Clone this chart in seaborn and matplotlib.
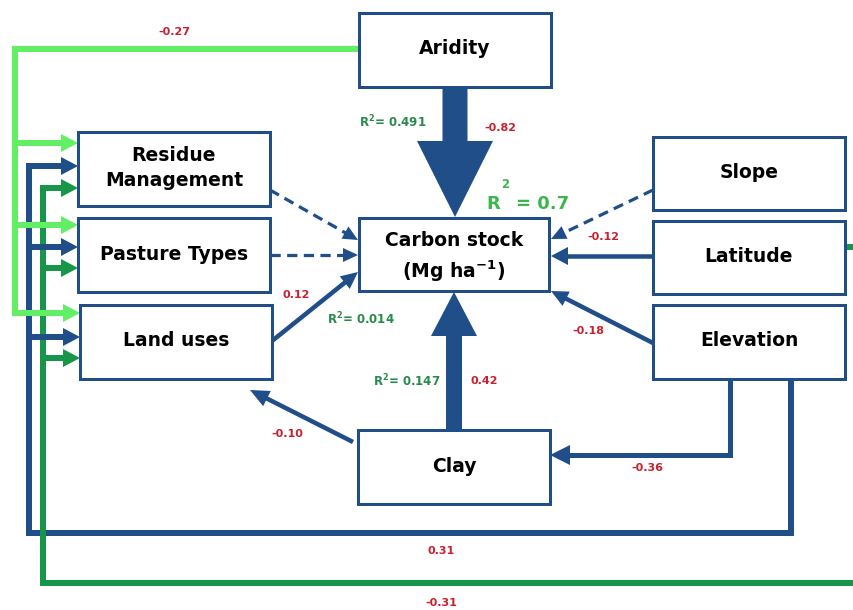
import numpy as np
import matplotlib
matplotlib.use("Agg")
import matplotlib.pyplot as plt
import matplotlib.patches as mpatches
import seaborn as sns

sns.set_theme(style="white")
plt.rcParams["font.family"] = ["DejaVu Sans"]

# ===========================
# DATA
# ===========================
node_names = ["Aridity", "Residue\nManagement", "Pasture Types", "Land uses",
              "Carbon stock", "Slope", "Latitude", "Elevation", "Clay"]

# path coefficients (source, target, value)
path_src = ["Aridity", "Aridity", "Latitude", "Land uses", "Elevation",
            "Clay", "Clay", "Elevation", "Elevation", "Latitude"]
path_dst = ["Carbon stock", "Management", "Carbon stock", "Carbon stock",
            "Carbon stock", "Carbon stock", "Land uses", "Clay",
            "Management", "Management"]
path_coef = [-0.82, -0.27, -0.12, 0.12, -0.18, 0.42, -0.10, -0.36, 0.31, -0.31]

# non significant paths (dashed)
ns_src = ["Residue\nManagement", "Pasture Types", "Slope"]

# explained variance
r2_names = ["Carbon stock", "Aridity", "Land uses", "Clay"]
r2_values = [0.7, 0.491, 0.014, 0.147]

# ===========================
# LAYOUT (pixels)
# ===========================
BLUE = "#1f4e89"
LGREEN = "#62ef66"
DGREEN = "#17964a"
RED = "#c8202e"
TGREEN = "#2a8a4c"
BGREEN = "#3db54e"
PT = 72 / 100.0

boxes = {
    "Aridity": (359, 13, 192, 74),
    "Residue\nManagement": (78, 132, 192, 74),
    "Pasture Types": (78, 218, 192, 74),
    "Land uses": (80, 305, 192, 74),
    "Carbon stock": (359, 218, 190, 73),
    "Slope": (653, 137, 192, 73),
    "Latitude": (653, 221, 192, 73),
    "Elevation": (653, 305, 192, 74),
    "Clay": (358, 430, 192, 74),
}

fig = plt.figure(figsize=(8.54, 6.10), dpi=100)
ax = fig.add_axes([0, 0, 1, 1])
ax.set_xlim(0, 854)
ax.set_ylim(610, 0)
ax.axis("off")


def head(tip, frm, length, width, color, z=4):
    tip = np.array(tip, float)
    u = tip - np.array(frm, float)
    u = u / np.linalg.norm(u)
    n = np.array([-u[1], u[0]])
    base = tip - u * length
    tri = [tip, base + n * width / 2, base - n * width / 2]
    ax.add_patch(mpatches.Polygon(tri, closed=True, color=color, lw=0, zorder=z))


def arrow(pts, lw_px, color, hl, hw, dashed=False, z=3):
    pts = [np.array(p, float) for p in pts]
    u = pts[-1] - pts[-2]
    u = u / np.linalg.norm(u)
    line = pts[:-1] + [pts[-1] - u * hl * 0.8]
    xs = [p[0] for p in line]
    ys = [p[1] for p in line]
    kw = dict(color=color, lw=lw_px * PT, zorder=z, solid_capstyle="butt",
              solid_joinstyle="miter")
    if dashed:
        kw["dashes"] = (3.2, 2.0)
        kw["dash_capstyle"] = "butt"
    ax.plot(xs, ys, **kw)
    head(pts[-1], pts[-2], hl, hw, color, z=z + 1)


def poly(pts, lw_px, color, z=2):
    ax.plot([p[0] for p in pts], [p[1] for p in pts], color=color,
            lw=lw_px * PT, zorder=z, solid_capstyle="projecting",
            solid_joinstyle="miter")


def lab(x, y, s, color=RED, size=8, ha="center"):
    ax.text(x, y, s, color=color, fontsize=size, fontweight="bold",
            ha=ha, va="center", zorder=6)


coef = dict(zip(zip(path_src, path_dst), path_coef))
r2 = dict(zip(r2_names, r2_values))

# ===========================
# LONG ROUTED PATHS (left side)
# ===========================
# Aridity -> management (light green)
poly([(359, 49), (15, 49), (15, 313)], 6, LGREEN)
for y, xe in [(143, 78), (225, 78), (313, 80)]:
    arrow([(15, y), (xe, y)], 6, LGREEN, 17, 18)

# Elevation -> management (blue)
poly([(791, 379), (791, 533), (29, 533), (29, 166)], 6, BLUE)
for y, xe in [(166, 78), (247, 78), (337, 80)]:
    arrow([(29, y), (xe, y)], 6, BLUE, 17, 18)

# Latitude -> management (dark green)
poly([(845, 247), (870, 247), (870, 583), (43, 583), (43, 188)], 6, DGREEN)
for y, xe in [(188, 78), (268, 78), (358, 80)]:
    arrow([(43, y), (xe, y)], 6, DGREEN, 17, 18)

# ===========================
# PATHS TO CARBON STOCK
# ===========================
ax.add_patch(mpatches.FancyArrow(455, 87, 0, 130, width=25, head_width=76,
                                 head_length=76, length_includes_head=True,
                                 color=BLUE, lw=0, zorder=3))
ax.add_patch(mpatches.FancyArrow(454, 430, 0, -138, width=16, head_width=46,
                                 head_length=44, length_includes_head=True,
                                 color=BLUE, lw=0, zorder=3))

arrow([(270, 190), (358, 240)], 3.2, BLUE, 15, 14, dashed=True)
arrow([(270, 255), (358, 255)], 3.2, BLUE, 15, 14, dashed=True)
arrow([(272, 341), (358, 272)], 4.5, BLUE, 17, 16)
arrow([(653, 190), (551, 239)], 3.2, BLUE, 15, 14, dashed=True)
arrow([(653, 256), (551, 256)], 4.5, BLUE, 17, 18)
arrow([(653, 343), (551, 291)], 4.5, BLUE, 17, 16)
arrow([(730, 379), (730, 455), (550, 455)], 5, BLUE, 20, 20)
arrow([(353, 442), (250, 390)], 4.5, BLUE, 19, 17)

# ===========================
# BOXES
# ===========================
for name in node_names:
    x, y, w, h = boxes[name]
    ax.add_patch(mpatches.Rectangle((x, y), w, h, facecolor="white",
                                    edgecolor=BLUE, lw=3 * PT, zorder=5))
    if name == "Carbon stock":
        ax.text(x + w / 2, y + 22, "Carbon stock", fontsize=13.5, color="black",
                fontweight="bold", ha="center", va="center", zorder=6)
        ax.text(x + w / 2, y + 53, r"(Mg ha$^{\mathbf{-1}}$)", fontsize=13.5,
                color="black", fontweight="bold", ha="center", va="center",
                zorder=6)
    else:
        ax.text(x + w / 2, y + h / 2 - 1, name, fontsize=13.5, color="black",
                fontweight="bold", ha="center", va="center",
                linespacing=1.4, zorder=6)

# ===========================
# LABELS
# ===========================
lab(174, 32, f"{coef[('Aridity', 'Management')]:.2f}")
lab(500, 128, f"{coef[('Aridity', 'Carbon stock')]:.2f}")
lab(603, 237, f"{coef[('Latitude', 'Carbon stock')]:.2f}")
lab(296, 295, f"{coef[('Land uses', 'Carbon stock')]:.2f}")
lab(588, 331, f"{coef[('Elevation', 'Carbon stock')]:.2f}")
lab(484, 381, f"{coef[('Clay', 'Carbon stock')]:.2f}")
lab(287, 434, f"{coef[('Clay', 'Land uses')]:.2f}")
lab(647, 468, f"{coef[('Elevation', 'Clay')]:.2f}")
lab(441, 551, f"{coef[('Elevation', 'Management')]:.2f}")
lab(441, 603, f"{coef[('Latitude', 'Management')]:.2f}")

lab(359, 122, f"R$^{{\\mathbf{{2}}}}$= {r2['Aridity']}", TGREEN, 8.5, "left")
lab(327, 319, f"R$^{{\\mathbf{{2}}}}$= {r2['Land uses']}", TGREEN, 8.5, "left")
lab(373, 381, f"R$^{{\\mathbf{{2}}}}$= {r2['Clay']}", TGREEN, 8.5, "left")

ax.text(486, 204, "R", color=BGREEN, fontsize=13, fontweight="bold",
        ha="left", va="center", zorder=6)
ax.text(505, 185, "2", color=BGREEN, fontsize=8.5, fontweight="bold",
        ha="center", va="center", zorder=6)
ax.text(516, 204, f"= {r2['Carbon stock']}", color=BGREEN, fontsize=13,
        fontweight="bold", ha="left", va="center", zorder=6)

fig.savefig("out.png", dpi=100, facecolor="white")
